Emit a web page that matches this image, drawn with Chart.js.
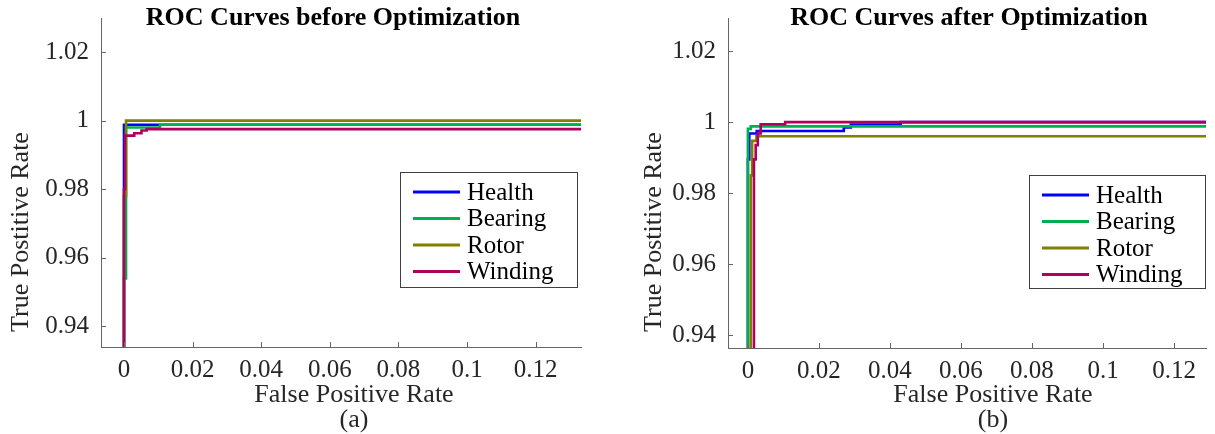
<!DOCTYPE html>
<html>
<head>
<meta charset="utf-8">
<script src="https://cdn.jsdelivr.net/npm/chart.js@4.4.0/dist/chart.umd.min.js"></script>
<style>
  html, body { margin: 0; padding: 0; background: #fff; }
  #wrap { position: relative; width: 1215px; height: 434px; }
  .panel { position: absolute; top: 0; height: 434px; }
</style>
</head>
<body>
<div id="wrap">
  <div class="panel" style="left:0;width:607px"><canvas id="rocBefore"></canvas></div>
  <div class="panel" style="left:607px;width:608px"><canvas id="rocAfter"></canvas></div>
</div>
<script>
// Classes and tick labels
const classNames = ["Health", "Bearing", "Rotor", "Winding"];
const xTicks = [0, 0.02, 0.04, 0.06, 0.08, 0.1, 0.12];
const yTicks = [0.94, 0.96, 0.98, 1, 1.02];

// ROC points before optimization (a)
const healthFprA = [0, 0, 1];
const healthTprA = [0, 0.9988, 0.9988];
const bearingFprA = [0, 0, 0.0006, 0.0006, 0.0105, 0.0105, 1];
const bearingTprA = [0, 0.954, 0.954, 0.998, 0.998, 0.9988, 0.9988];
const rotorFprA = [0, 0, 0.0006, 0.0006, 1];
const rotorTprA = [0, 0.978, 0.978, 1, 1];
const windingFprA = [0, 0, 0.0003, 0.0003, 0.003, 0.003, 0.0051, 0.0051, 0.0066, 0.0066, 1];
const windingTprA = [0, 0.98, 0.98, 0.9956, 0.9956, 0.9963, 0.9963, 0.9971, 0.9971, 0.9975, 0.9975];

// ROC points after optimization (b)
const healthFprB = [0, 0, 0.0004, 0.0004, 0.0025, 0.0025, 0.027, 0.027, 0.029, 0.029, 0.043, 0.043, 1];
const healthTprB = [0, 0.9895, 0.9895, 0.9968, 0.9968, 0.9975, 0.9975, 0.9985, 0.9985, 0.9993, 0.9993, 1, 1];
const bearingFprB = [0, 0, 0.0008, 0.0008, 1];
const bearingTprB = [0, 0.9981, 0.9981, 0.9988, 0.9988];
const rotorFprB = [0.0008, 0.0008, 0.0012, 0.0012, 0.0024, 0.0024, 1];
const rotorTprB = [0, 0.985, 0.985, 0.9947, 0.9947, 0.996, 0.996];
const windingFprB = [0.0017, 0.0017, 0.0022, 0.0022, 0.0028, 0.0028, 0.0036, 0.0036, 0.0105, 0.0105, 1];
const windingTprB = [0, 0.9895, 0.9895, 0.9935, 0.9935, 0.9968, 0.9968, 0.9994, 0.9994, 1, 1];

const lineColors = ["#0000ff", "#00b050", "#808000", "#b0005e"];
const serif = "'Liberation Serif', 'DejaVu Serif', serif";

function toPoints(fpr, tpr) {
  return fpr.map((x, i) => ({ x, y: tpr[i] }));
}

// inward tick marks (MATLAB style)
const inwardTicks = {
  id: "inwardTicks",
  afterDraw(chart) {
    const { ctx, chartArea, scales } = chart;
    ctx.save();
    ctx.strokeStyle = "#666";
    ctx.lineWidth = 1;
    scales.x.ticks.forEach((t) => {
      const px = Math.round(scales.x.getPixelForValue(t.value)) + 0.5;
      ctx.beginPath();
      ctx.moveTo(px, chartArea.bottom);
      ctx.lineTo(px, chartArea.bottom - 5);
      ctx.stroke();
    });
    scales.y.ticks.forEach((t) => {
      const py = Math.round(scales.y.getPixelForValue(t.value)) + 0.5;
      ctx.beginPath();
      ctx.moveTo(chartArea.left, py);
      ctx.lineTo(chartArea.left + 5, py);
      ctx.stroke();
    });
    ctx.restore();
  },
};

// legend box + captions drawn inside each panel
const panelText = {
  id: "panelText",
  afterDraw(chart, args, opts) {
    const { ctx } = chart;
    ctx.save();
    ctx.textAlign = "center";
    ctx.textBaseline = "middle";
    ctx.fillStyle = "#000";
    ctx.font = "bold 26px " + serif;
    ctx.fillText(opts.title, opts.titleX, 18);

    ctx.fillStyle = "#262626";
    ctx.font = "26px " + serif;
    ctx.fillText("False Positive Rate", opts.xTitleX, 395);
    ctx.fillText(opts.caption, opts.xTitleX, 420);

    ctx.save();
    ctx.translate(opts.yTitleX, 232);
    ctx.rotate(-Math.PI / 2);
    ctx.fillText("True Postitive Rate", 0, 0);
    ctx.restore();

    // legend
    const lg = opts.legend;
    ctx.fillStyle = "#fff";
    ctx.fillRect(lg.x, lg.y, lg.w, lg.h);
    ctx.strokeStyle = "#404040";
    ctx.lineWidth = 1;
    ctx.strokeRect(lg.x + 0.5, lg.y + 0.5, lg.w, lg.h);
    ctx.textAlign = "left";
    ctx.font = "25px " + serif;
    chart.data.datasets.forEach((ds, i) => {
      const ry = lg.y + 20 + i * 26.5;
      ctx.strokeStyle = ds.borderColor;
      ctx.lineWidth = 3;
      ctx.beginPath();
      ctx.moveTo(lg.x + 13, ry);
      ctx.lineTo(lg.x + 60, ry);
      ctx.stroke();
      ctx.fillStyle = "#000";
      ctx.fillText(ds.label, lg.x + 67, ry + 1);
    });
    ctx.restore();
  },
};

function createRocChart(id, fprs, tprs, axisRange, layoutPad, text) {
  const datasets = classNames.map((name, i) => ({
    label: name,
    data: toPoints(fprs[i], tprs[i]),
    borderColor: lineColors[i],
    borderWidth: 2.6,
    pointRadius: 0,
    showLine: true,
    fill: false,
    order: classNames.length - i,
  }));

  return new Chart(document.getElementById(id), {
    type: "scatter",
    data: { datasets },
    plugins: [inwardTicks, panelText],
    options: {
      responsive: true,
      maintainAspectRatio: false,
      animation: false,
      layout: { padding: layoutPad.padding },
      plugins: {
        legend: { display: false },
        tooltip: { enabled: false },
        panelText: text,
      },
      scales: {
        x: {
          type: "linear",
          min: axisRange.xMin,
          max: axisRange.xMax,
          afterBuildTicks: (s) => { s.ticks = xTicks.map((v) => ({ value: v })); },
          afterFit: (s) => {
            s.height = layoutPad.xHeight;
            s.paddingLeft = 0;
            s.paddingRight = 0;
          },
          ticks: {
            color: "#262626",
            font: { family: serif, size: 25 },
            padding: 8,
            callback: (v) => String(v),
          },
          grid: { display: false, drawTicks: false },
          border: { display: true, color: "#666", width: 1 },
        },
        y: {
          type: "linear",
          min: axisRange.yMin,
          max: axisRange.yMax,
          afterBuildTicks: (s) => { s.ticks = yTicks.map((v) => ({ value: v })); },
          afterFit: (s) => {
            s.width = layoutPad.yWidth;
            s.paddingTop = 0;
            s.paddingBottom = 0;
          },
          ticks: {
            color: "#262626",
            font: { family: serif, size: 25 },
            padding: 12,
            callback: (v) => String(v),
          },
          grid: { display: false, drawTicks: false },
          border: { display: true, color: "#666", width: 1 },
        },
      },
    },
  });
}

createRocChart(
  "rocBefore",
  [healthFprA, bearingFprA, rotorFprA, windingFprA],
  [healthTprA, bearingTprA, rotorTprA, windingTprA],
  { xMin: -0.0067, xMax: 0.1332, yMin: 0.934, yMax: 1.0299 },
  { padding: { top: 18, right: 26, left: 0, bottom: 0 }, xHeight: 87, yWidth: 101 },
  {
    title: "ROC Curves before Optimization",
    titleX: 333,
    xTitleX: 354,
    yTitleX: 21,
    caption: "(a)",
    legend: { x: 400, y: 172, w: 177, h: 115 },
  }
);

createRocChart(
  "rocAfter",
  [healthFprB, bearingFprB, rotorFprB, windingFprB],
  [healthTprB, bearingTprB, rotorTprB, windingTprB],
  { xMin: -0.0056, xMax: 0.129, yMin: 0.9364, yMax: 1.0293 },
  { padding: { top: 18, right: 9, left: 0, bottom: 0 }, xHeight: 86, yWidth: 121 },
  {
    title: "ROC Curves after Optimization",
    titleX: 362,
    xTitleX: 386,
    yTitleX: 47,
    caption: "(b)",
    legend: { x: 422, y: 175, w: 176, h: 113 },
  }
);
</script>
</body>
</html>
